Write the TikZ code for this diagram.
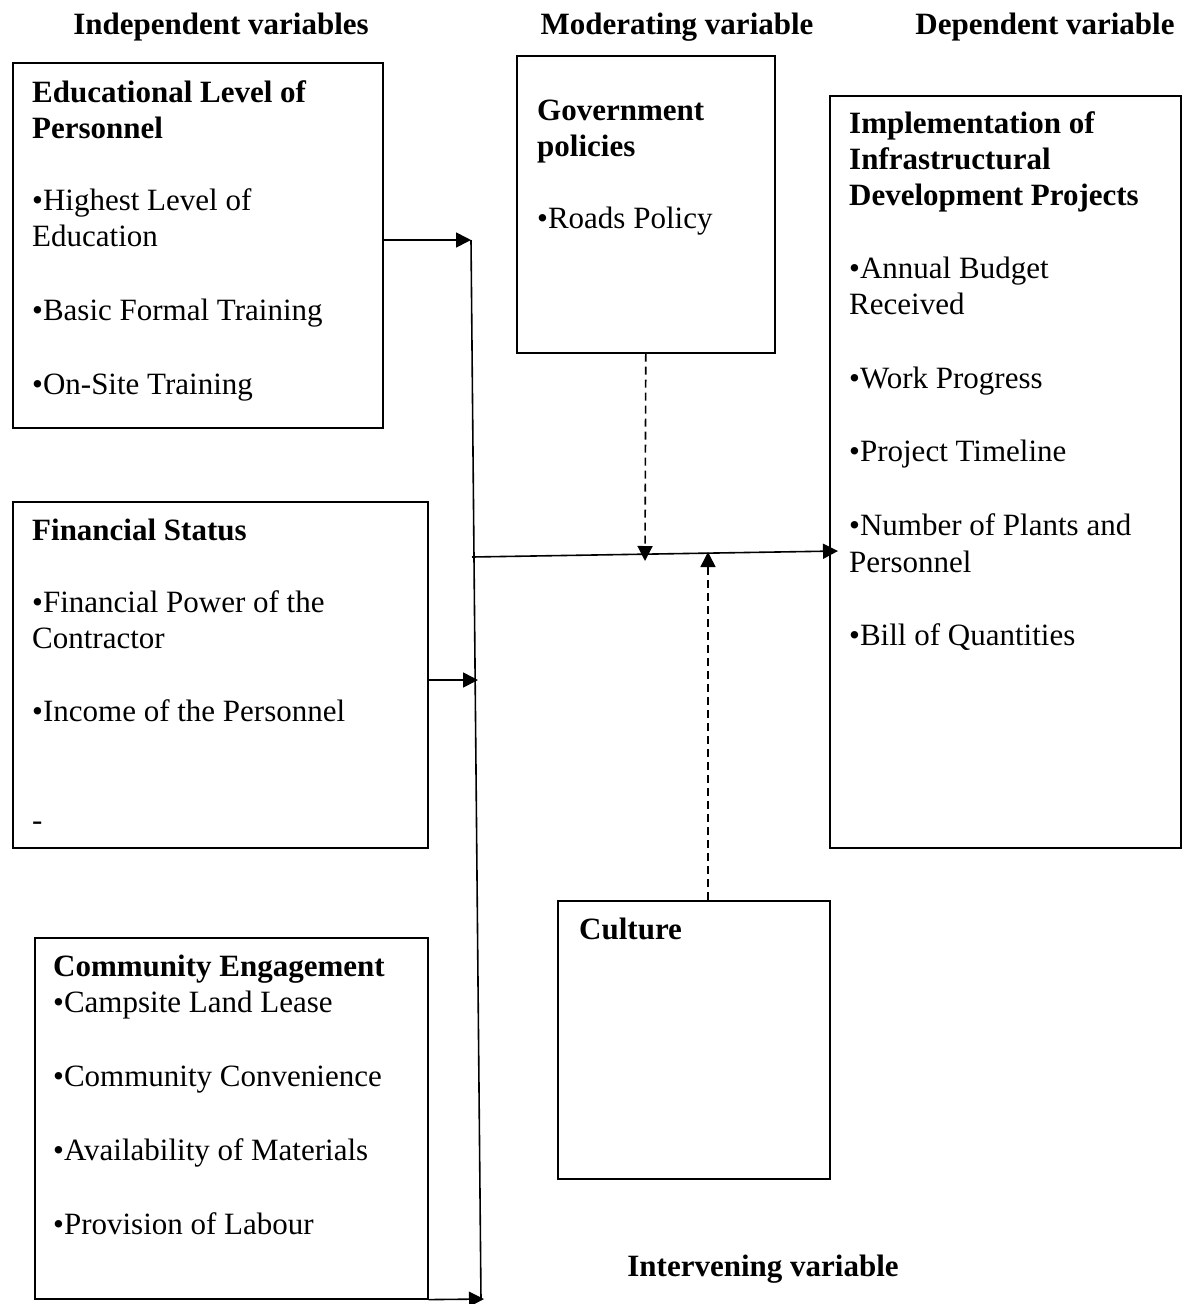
\documentclass[tikz,border=0pt]{standalone}
\usepackage{fontspec}
\setmainfont{Liberation Serif}
\usetikzlibrary{arrows.meta}
\tikzset{
  boxst/.style={draw=black, line width=1.6pt, rectangle, inner sep=0pt, anchor=north west},
  txt/.style={inner sep=0pt, anchor=base west, font=\fontsize{31}{36}\selectfont},
  btxt/.style={txt, font=\fontsize{31}{36}\selectfont\bfseries},
  head/.style={inner sep=0pt, anchor=base, font=\fontsize{31}{36}\selectfont\bfseries},
  conn/.style={line width=1.6pt},
  arr/.style={line width=1.6pt, -{Triangle[length=15pt,width=15pt]}},
  darr/.style={line width=1.6pt, dash pattern=on 8pt off 5pt, -{Triangle[length=15pt,width=15pt]}}
}
\begin{document}
\begin{tikzpicture}[x=1pt,y=-1pt]
\useasboundingbox (0,0) rectangle (1183,1304);
% headings
\node[head] (h1) at (221,34) {Independent variables};
\node[head] (h2) at (677,34) {Moderating variable};
\node[head] (h3) at (1045,34) {Dependent variable};
\node[head] (h4) at (763,1276) {Intervening variable};
% boxes
\node[boxst, minimum width=370pt, minimum height=365pt] (edu) at (12,62) {};
\node[boxst, minimum width=415pt, minimum height=346pt] (fin) at (12,501) {};
\node[boxst, minimum width=393pt, minimum height=361pt] (com) at (34,937) {};
\node[boxst, minimum width=258pt, minimum height=297pt] (gov) at (516,55) {};
\node[boxst, minimum width=351pt, minimum height=752pt] (impl) at (829,95) {};
\node[boxst, minimum width=272pt, minimum height=278pt] (cult) at (557,900) {};
% box 1
\node[btxt] (e1) at (32,102) {Educational Level of};
\node[btxt] (e2) at (32,138) {Personnel};
\node[txt] (e3) at (32,210) {•Highest Level of};
\node[txt] (e4) at (32,246) {Education};
\node[txt] (e5) at (32,320) {•Basic Formal Training};
\node[txt] (e6) at (32,394) {•On-Site Training};
% box 2
\node[btxt] (f1) at (32,540) {Financial Status};
\node[txt] (f2) at (32,612) {•Financial Power of the};
\node[txt] (f3) at (32,648) {Contractor};
\node[txt] (f4) at (32,721) {•Income of the Personnel};
\node[txt] (f5) at (32,830) {-};
% box 3
\node[btxt] (c1) at (53,976) {Community Engagement};
\node[txt] (c2) at (53,1012) {•Campsite Land Lease};
\node[txt] (c3) at (53,1086) {•Community Convenience};
\node[txt] (c4) at (53,1160) {•Availability of Materials};
\node[txt] (c5) at (53,1234) {•Provision of Labour};
% gov
\node[btxt] (g1) at (537,120) {Government};
\node[btxt] (g2) at (537,156) {policies};
\node[txt] (g3) at (537,228) {•Roads Policy};
% impl
\node[btxt] (i1) at (849,133) {Implementation of};
\node[btxt] (i2) at (849,169) {Infrastructural};
\node[btxt] (i3) at (849,205) {Development Projects};
\node[txt] (i4) at (849,278) {•Annual Budget};
\node[txt] (i5) at (849,314) {Received};
\node[txt] (i6) at (849,388) {•Work Progress};
\node[txt] (i7) at (849,461) {•Project Timeline};
\node[txt] (i8) at (849,535) {•Number of Plants and};
\node[txt] (i9) at (849,572) {Personnel};
\node[txt] (i10) at (849,645) {•Bill of Quantities};
% culture
\node[btxt] (k1) at (579,939) {Culture};
% connectors
\coordinate (vtop) at (471,240);
\coordinate (vbot) at (481,1300);
\coordinate (fa) at (478,680);
\coordinate (ba) at (484,1299);
\coordinate (hstart) at (472,557);
\coordinate (hend) at (838,551);
\coordinate (dtip) at (645,561);
\coordinate (utip) at (708,552);
\draw[arr] (edu.east |- vtop) -- (vtop);
\draw[conn] (vtop) -- (vbot);
\draw[arr] (fin.east |- fa) -- (fa);
\draw[arr] (com.south east) -- (ba);
\draw[arr] (hstart) -- (hend);
\draw[darr] (gov.south) -- (dtip);
\draw[darr] (cult.north -| utip) -- (utip);
\end{tikzpicture}
\end{document}
